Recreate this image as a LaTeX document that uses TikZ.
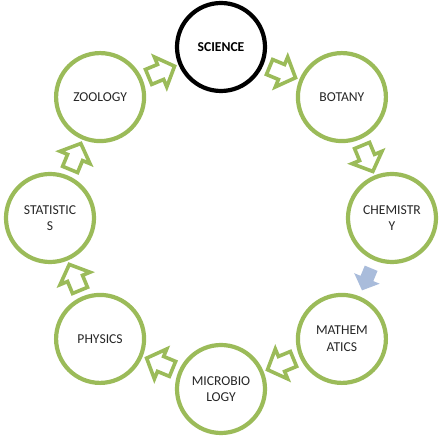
\documentclass[tikz,border=0pt]{standalone}
\usepackage{fontspec}
\setmainfont{Carlito}
\usetikzlibrary{calc}
\definecolor{cgreen}{HTML}{9BBB59}
\definecolor{cblue}{HTML}{A9BCDB}
\newcommand\cycarrow[4]{%
  \coordinate (m) at ($(#1)!0.5!(#2)$);
  \draw[#4, shift={(m)}, rotate=#3]
    (-12,-7.5) -- (0,-7.5) -- (0,-15) -- (14,0) -- (0,15) -- (0,7.5) -- (-12,7.5) -- cycle;
}
\begin{document}
\begin{tikzpicture}[x=1pt,y=1pt,
  circ/.style={circle, draw=cgreen, line width=4.2pt, minimum size=88pt, inner sep=0pt,
    align=center, font=\fontsize{13.6}{16.5}\selectfont, text=black!85},
  arr/.style={draw=cgreen, line width=3.6pt, fill=white, line join=miter, scale=1.08},
  arrblue/.style={fill=cblue, draw=none, scale=0.92}]
\useasboundingbox (0,0) rectangle (440,439);
\coordinate (c) at (221,221);
\node[circ, draw=black, text=black] (sci) at ($(c)+(90:171)$) {\textbf{SCIENCE}};
\node[circ] (bot) at ($(c)+(45:171)$) {BOTANY};
\node[circ] (che) at ($(c)+(0:171)$) {CHEMISTR\\Y};
\node[circ] (mat) at ($(c)+(-45:171)$) {MATHEM\\ATICS};
\node[circ] (mic) at ($(c)+(-90:171)$) {MICROBIO\\LOGY};
\node[circ] (phy) at ($(c)+(-135:171)$) {PHYSICS};
\node[circ] (sta) at ($(c)+(180:171)$) {STATISTIC\\S};
\node[circ] (zoo) at ($(c)+(135:171)$) {ZOOLOGY};
\cycarrow{sci}{bot}{-22.5}{arr}
\cycarrow{bot}{che}{-67.5}{arr}
\cycarrow{che}{mat}{-112.5}{arrblue}
\cycarrow{mat}{mic}{-157.5}{arr}
\cycarrow{mic}{phy}{157.5}{arr}
\cycarrow{phy}{sta}{112.5}{arr}
\cycarrow{sta}{zoo}{67.5}{arr}
\cycarrow{zoo}{sci}{22.5}{arr}
\end{tikzpicture}
\end{document}
